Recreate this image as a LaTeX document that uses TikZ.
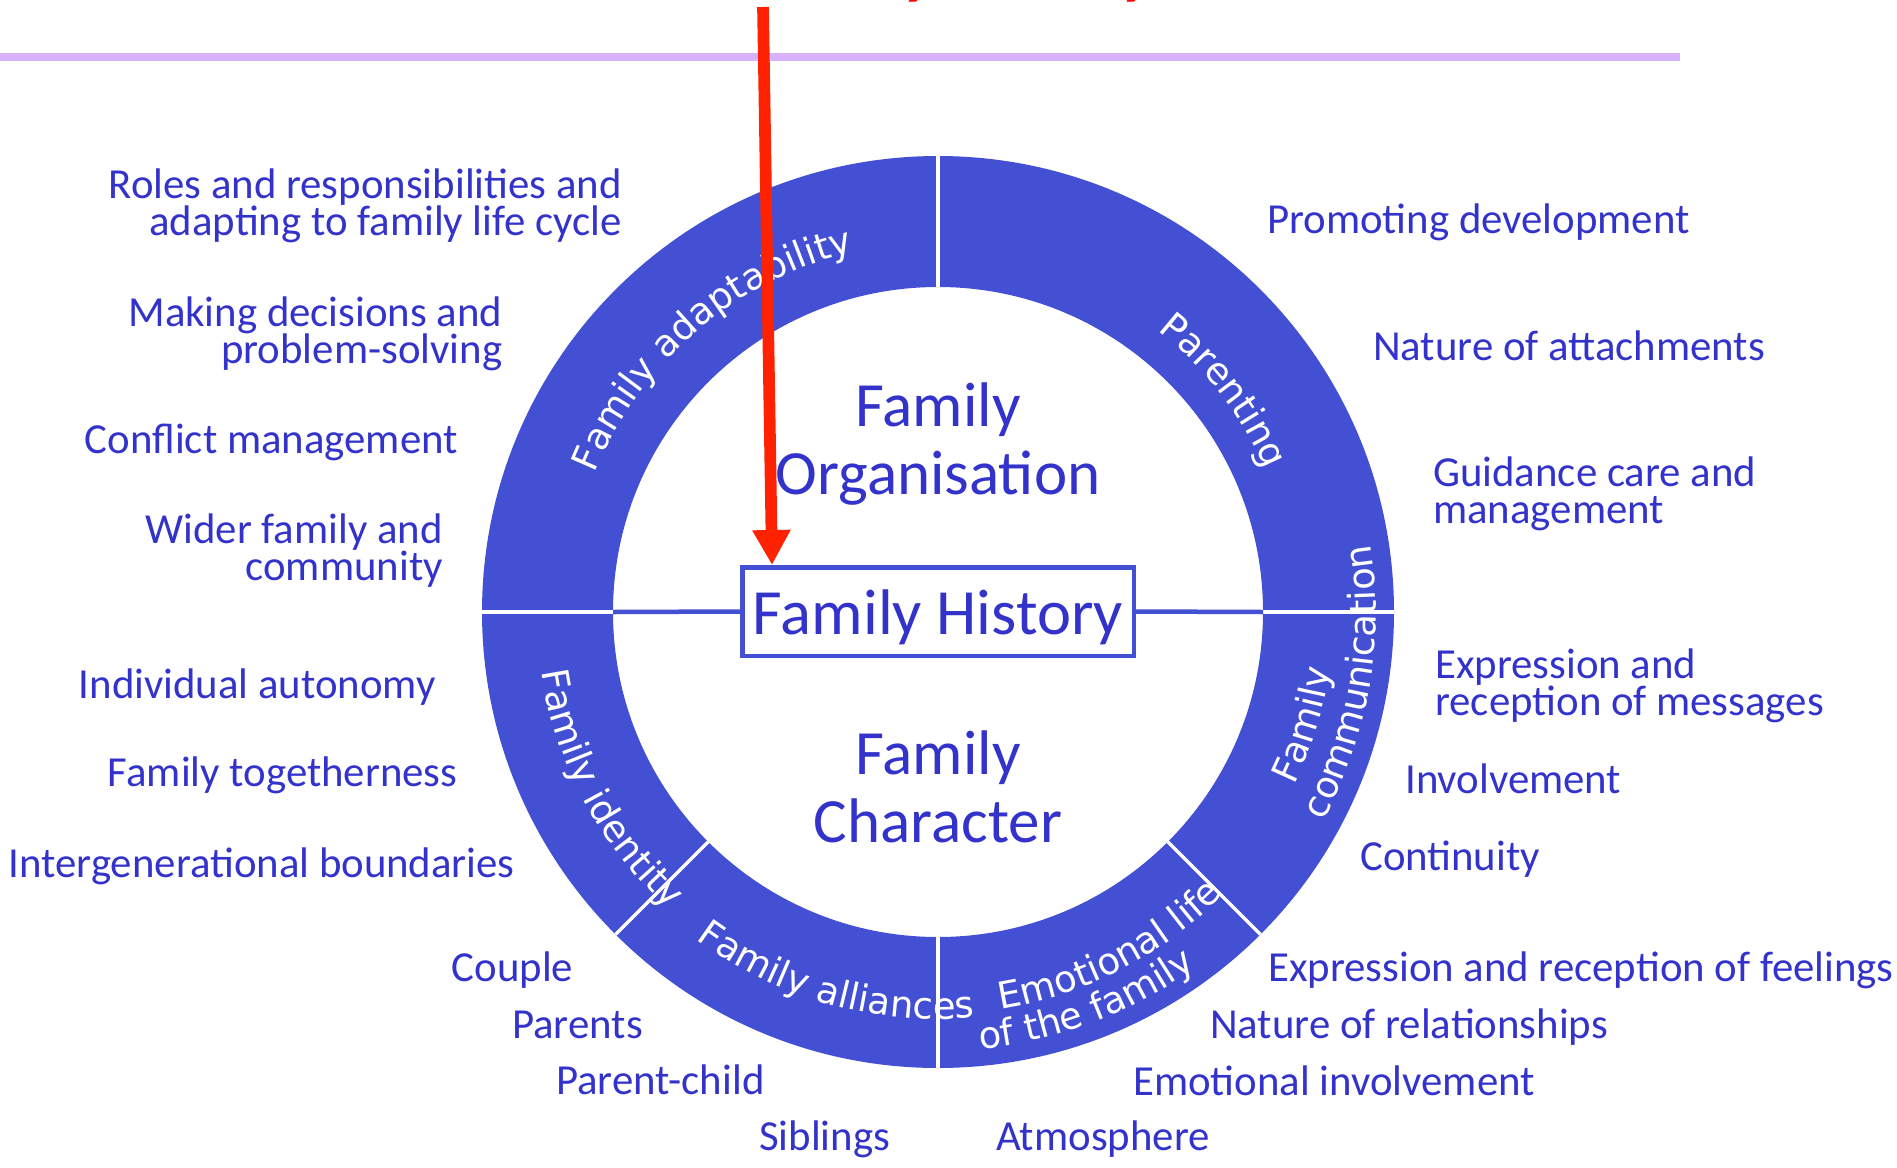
\documentclass[tikz,border=0pt]{standalone}
\usepackage{fontspec}
\setmainfont{Carlito}
\newfontfamily\ringfamily{DejaVu Sans}
\usetikzlibrary{arrows.meta,decorations.text,calc}

\definecolor{ringblue}{RGB}{68,80,212}
\definecolor{textblue}{RGB}{51,51,204}
\definecolor{arrowred}{RGB}{255,34,0}
\definecolor{titlered}{RGB}{255,0,0}
\definecolor{lavender}{RGB}{216,178,255}

% font of the labels written along the ring
\newcommand{\ringfont}{\fontsize{37}{42}\selectfont\ringfamily}
% two-line blocks whose first baseline is the node's base
\newcommand{\rightlines}[2]{\vtop{\baselineskip=37pt\lineskiplimit=-1000pt\lineskip=0pt\halign{\hfil##\cr#1\cr#2\cr}}}
\newcommand{\leftlines}[2]{\vtop{\baselineskip=37pt\lineskiplimit=-1000pt\lineskip=0pt\halign{##\hfil\cr#1\cr#2\cr}}}
\newcommand{\centerlines}[3]{\vtop{\baselineskip=#3\lineskiplimit=-1000pt\lineskip=0pt\halign{\hfil##\hfil\cr#1\cr#2\cr}}}

\tikzset{
  aspect/.style={inner sep=0pt, text=textblue, font=\fontsize{42.8}{37}\selectfont},
  core/.style={inner sep=0pt, text=textblue, font=\fontsize{63}{68}\selectfont},
  histbox/.style={draw=ringblue, line width=4.5pt, fill=white, text=textblue,
    minimum width=391.5pt, minimum height=88.5pt, inner sep=0pt,
    text height=45pt, text depth=0pt, font=\fontsize{64.5}{70}\selectfont},
  divider/.style={white, line width=3.5pt},
  ringtext/.style={decorate, decoration={text along path, text color=white,
    text={|\ringfont|#1}}},
}

\begin{document}
\begin{tikzpicture}[x=1pt, y=1pt]
  \useasboundingbox (0,0) rectangle (1897,-1167);
  \fill[white] (0,0) rectangle (1897,-1167);

  % heading rule
  \coordinate (ruleL) at (0,-57);
  \coordinate (ruleR) at (1680,-57);
  \draw[lavender, line width=8.3pt] (ruleL) -- (ruleR);

  % the ring
  \coordinate (C) at (938,-612);
  \fill[ringblue, even odd rule] (C) circle[radius=456pt] (C) circle[radius=325pt];

  % white dividers between the ring sections
  \foreach \a in {0,90,180,225,270,315}
    \draw[divider] ($(C)+(\a:325pt)$) -- ($(C)+(\a:456pt)$);

  % central box and its links to the ring
  \node[histbox] (hist) at (938,-611.5) {Family History};
  \coordinate (ringL) at ($(C)+(180:325pt)$);
  \coordinate (ringR) at ($(C)+(0:325pt)$);
  \draw[ringblue, line width=4.5pt] (ringL) -- (hist.west);
  \draw[ringblue, line width=4.5pt] (hist.east) -- (ringR);

  % the two halves
  \node[core, anchor=base] (org) at (938,-426) {\centerlines{Family}{Organisation}{68pt}};
  \node[core, anchor=base] (char) at (938,-774) {\centerlines{Family}{Character}{68pt}};

  % section labels along the ring
  \begin{scope}[shift={(C)}]
    \path[ringtext={Family adaptability}] (158:370pt) arc[start angle=158, end angle=60, radius=370pt];
    \path[ringtext={Parenting}] (52:357pt) arc[start angle=52, end angle=-20, radius=357pt];
    \path[ringtext={Family}] (-26:396pt) arc[start angle=-26, end angle=40, radius=396pt];
    \path[ringtext={communication}] (-28.5:438pt) arc[start angle=-28.5, end angle=50, radius=438pt];
    \path[ringtext={Family identity}] (188.5:401pt) arc[start angle=188.5, end angle=260, radius=401pt];
    \path[ringtext={Family alliances}] (233.5:407pt) arc[start angle=233.5, end angle=310, radius=407pt];
    \path[ringtext={Emotional life}] (279:402pt) arc[start angle=279, end angle=350, radius=402pt];
    \path[ringtext={of the family}] (275.5:439pt) arc[start angle=275.5, end angle=350, radius=439pt];
  \end{scope}

  % aspects on the left
  \node[aspect, anchor=base east] (roles) at (622,-198) {\rightlines{Roles and responsibilities and}{adapting to family life cycle}};
  \node[aspect, anchor=base east] (decide) at (502.5,-326.7) {\rightlines{Making decisions and}{problem-solving}};
  \node[aspect, anchor=base east] (conflict) at (458,-453) {Conflict management};
  \node[aspect, anchor=base east] (wider) at (443,-543) {\rightlines{Wider family and}{community}};
  \node[aspect, anchor=base east] (autonomy) at (436,-698) {Individual autonomy};
  \node[aspect, anchor=base east] (together) at (457.6,-786.7) {Family togetherness};
  \node[aspect, anchor=base east] (bounds) at (515,-877) {Intergenerational boundaries};
  \node[aspect, anchor=base west] (couple) at (451.5,-981.7) {Couple};
  \node[aspect, anchor=base west] (parents) at (512,-1038) {Parents};
  \node[aspect, anchor=base west] (pchild) at (556,-1094) {Parent-child};
  \node[aspect, anchor=base west] (siblings) at (759,-1150) {Siblings};

  % aspects on the right
  \node[aspect, anchor=base west] (promote) at (1267,-233) {Promoting development};
  \node[aspect, anchor=base west] (attach) at (1373,-360) {Nature of attachments};
  \node[aspect, anchor=base west] (guide) at (1433,-486) {\leftlines{Guidance care and}{management}};
  \node[aspect, anchor=base west] (messages) at (1435,-678.3) {\leftlines{Expression and}{reception of messages}};
  \node[aspect, anchor=base west] (involve) at (1405,-793) {Involvement};
  \node[aspect, anchor=base west] (contin) at (1360,-870) {Continuity};
  \node[aspect, anchor=base west] (feelings) at (1268,-981.7) {Expression and reception of feelings};
  \node[aspect, anchor=base west] (relation) at (1210,-1038) {Nature of relationships};
  \node[aspect, anchor=base west] (emoinv) at (1133,-1095) {Emotional involvement};
  \node[aspect, anchor=base west] (atmos) at (996,-1150) {Atmosphere};

  % pointer onto the central box
  \coordinate (arrowtop) at (763,-7);
  \coordinate (arrowend) at ($(hist.north west)+(32,0)$);
  \draw[arrowred, line width=11.7pt, -{Triangle[width=36pt,length=35pt]}] (arrowtop) -- (arrowend);

  % heading, cut by the top edge
  \begin{scope}
    \clip (0,0) rectangle (1897,-1167);
    \node[anchor=base west, inner sep=0pt, text=titlered, font=\fontsize{68}{80}\selectfont\bfseries] (title) at (751,8.5) {Family History};
  \end{scope}
\end{tikzpicture}
\end{document}
